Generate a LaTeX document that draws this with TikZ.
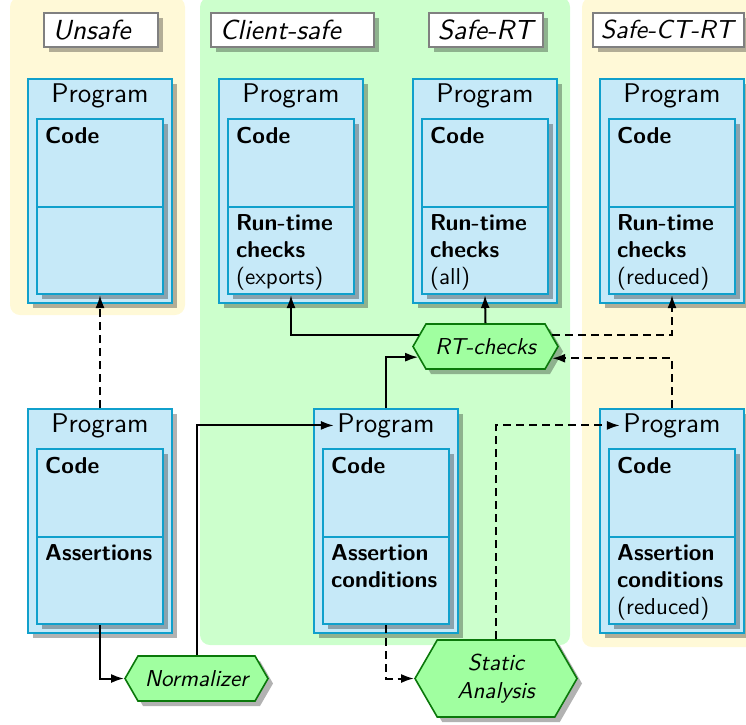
\documentclass[tikz,border=0pt]{standalone}
\usepackage{fontspec}
\setsansfont{lmsans10}[Extension=.otf,UprightFont=*-regular,BoldFont=*-bold,ItalicFont=*-oblique,BoldItalicFont=*-boldoblique]
\usetikzlibrary{shapes.symbols,shadows,arrows.meta,calc}
\definecolor{bgyellow}{RGB}{255,249,215}
\definecolor{bggreen}{RGB}{204,255,204}
\definecolor{progfill}{RGB}{198,233,248}
\definecolor{progdraw}{RGB}{16,160,204}
\definecolor{hexfill}{RGB}{160,255,160}
\definecolor{hexdraw}{RGB}{10,120,10}
\newcommand{\ProgBox}[4]{%
  \node[prog, anchor=north] (#1) at (#2,#3) {};
  \node[ptitle] (#1t) at (#2,#3+24) {Program};
  \node[part, anchor=north] (#1a) at (#2,#3+40) {};
  \node[ptext] (#1at) at ($(#1a.north west)+(9,9)$) {\textbf{Code}};
  \node[part, anchor=north] (#1b) at (#2,#3+127.5) {};
  \node[ptext] (#1bt) at ($(#1b.north west)+(9,9)$) {#4};
}
\begin{document}
\begin{tikzpicture}[x=1pt,y=-1pt,
  shad/.style={drop shadow={shadow xshift=5pt,shadow yshift=-5pt,opacity=0.3,fill=black}},
  prog/.style={shad,draw=progdraw,fill=progfill,line width=2pt,minimum width=144pt,minimum height=224pt,inner sep=0pt},
  part/.style={shad,draw=progdraw,fill=progfill,line width=2pt,minimum width=126pt,minimum height=87.5pt,inner sep=0pt},
  ptitle/.style={anchor=base,font=\sffamily\fontsize{27}{32}\selectfont},
  ptext/.style={anchor=north west,inner sep=0pt,align=left,font=\sffamily\fontsize{23}{27}\selectfont},
  lab/.style={shad,draw=black!50,fill=white,line width=1.6pt,anchor=north west,minimum height=34pt,inner xsep=9pt,inner ysep=0pt,font=\sffamily\itshape\fontsize{27.6}{32}\selectfont},
  hex/.style={shad,signal,signal to=west and east,signal pointer angle=120,draw=hexdraw,fill=hexfill,line width=1.6pt,align=center,inner sep=2pt,font=\sffamily\itshape\fontsize{23}{28}\selectfont},
  conn/.style={line width=2pt,-{Latex[length=13pt,width=9pt]}},
  dconn/.style={conn,dash pattern=on 8pt off 5pt}]
\useasboundingbox (0,0) rectangle (746,724);
% regions
\fill[bgyellow,rounded corners=10pt] (10,-3) rectangle (185,315);
\fill[bggreen,rounded corners=10pt] (200,-3) rectangle (570,645);
\fill[bgyellow,rounded corners=10pt] (582,-3) rectangle (770,647);
% labels
\node[lab] (lunsafe) at (43,12) {\makebox[96pt][l]{Unsafe}};
\node[lab] (lclient) at (210,12) {\makebox[145pt][l]{Client-safe}};
\node[lab] (lsafert) at (428,12) {\makebox[96pt][l]{Safe-RT}};
\node[lab,inner xsep=8pt] (lsafect) at (592,12) {\makebox[135pt][l]{\fontsize{26}{30}\selectfont Safe-CT-RT}};
% programs
\ProgBox{ta}{100}{78}{}
\ProgBox{tb}{291}{78}{\textbf{Run-time}\\\textbf{checks}\\(exports)}
\ProgBox{tc}{485}{78}{\textbf{Run-time}\\\textbf{checks}\\(all)}
\ProgBox{td}{672}{78}{\textbf{Run-time}\\\textbf{checks}\\(reduced)}
\ProgBox{ba}{100}{408}{\textbf{Assertions}}
\ProgBox{bb}{386}{408}{\textbf{Assertion}\\\textbf{conditions}}
\ProgBox{bc}{672}{408}{\textbf{Assertion}\\\textbf{conditions}\\(reduced)}
% hexagons
\node[hex,minimum width=143pt,minimum height=45pt] (norm) at (196.5,678.5) {Normalizer};
\node[hex,minimum width=145pt,minimum height=45pt] (rt) at (485.5,346.5) {RT-checks};
\node[hex,minimum width=162pt,minimum height=77pt] (sa) at (496,678.5) {Static\\Analysis};
% connectors
\draw[dconn] (ba.north) -- (tab.south);
\draw[conn] (bab.south) |- (norm.west);
\draw[conn] (norm.north) |- (bbt.west);
\draw[conn] (bb.north) |- (rt.189);
\draw[conn] (rt.170) -| (tbb.south);
\draw[conn] (rt.north) -- (tcb.south);
\draw[dconn] (rt.10) -| (tdb.south);
\draw[dconn] (bc.north) |- (rt.350);
\draw[dconn] (bbb.south) |- (sa.west);
\draw[dconn] (sa.north) |- (bct.west);
\end{tikzpicture}
\end{document}
